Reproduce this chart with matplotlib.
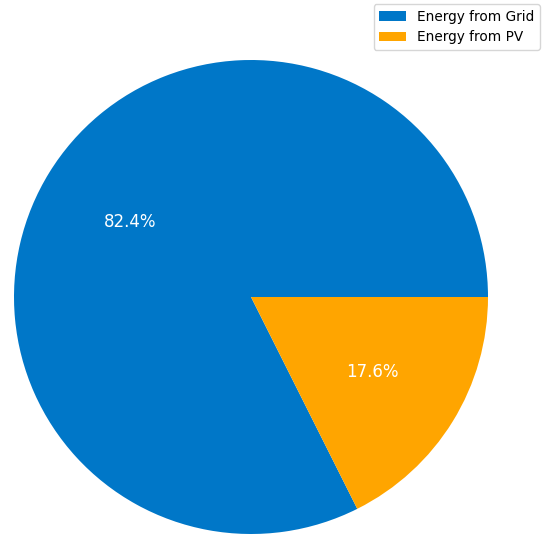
import matplotlib
matplotlib.use("Agg")
import matplotlib.pyplot as plt

labels = ["Energy from Grid", "Energy from PV"]
values = [82.4, 17.6]
colors = ["#0077C8", "#FFA500"]

fig = plt.figure(figsize=(5.44, 5.35), dpi=100)
ax = fig.add_axes([14 / 544, 1 / 535, 474 / 544, 474 / 535])
wedges, texts, autotexts = ax.pie(
    values, colors=colors, autopct="%1.1f%%", startangle=0,
    textprops={"color": "white", "fontsize": 12},
)
ax.set_xlim(-1, 1)
ax.set_ylim(-1, 1)
ax.set_aspect("equal")
fig.legend(wedges, labels, loc="upper right", bbox_to_anchor=(1.0, 1.0),
           fontsize=9.8, borderaxespad=0.3)
fig.savefig("out.png", dpi=100)
